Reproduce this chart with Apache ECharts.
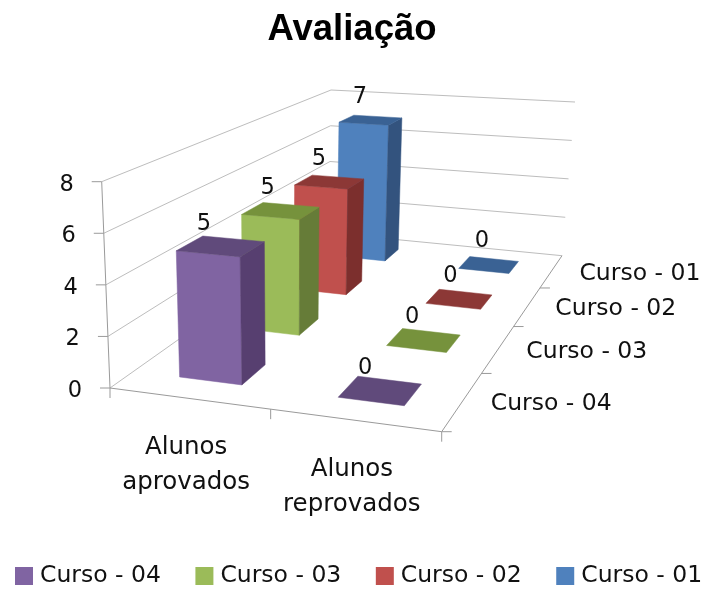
<!DOCTYPE html>
<html><head><meta charset="utf-8">
<style>html,body{margin:0;padding:0;background:#fff}#c{width:704px;height:590px}</style>
<script src="https://cdn.jsdelivr.net/npm/echarts@6/dist/echarts.min.js"></script>
</head><body><div id="c"></div>
<script>
const categories = ["Alunos\naprovados", "Alunos\nreprovados"];
const seriesNames = ["Curso - 04", "Curso - 03", "Curso - 02", "Curso - 01"];
const curso04 = [5, 0];
const curso03 = [5, 0];
const curso02 = [5, 0];
const curso01 = [7, 0];
const valueTicks = [0, 2, 4, 6, 8];
const seriesValues = [curso04, curso03, curso02, curso01];

const frontColors = ["#8064A2", "#9BBB59", "#C0504D", "#4F81BD"];
const sideColors  = ["#573F70", "#667C38", "#7C2F2D", "#33537E"];
const topColors   = ["#604A7B", "#76923C", "#8C3836", "#3A6294"];

const FONT = "DejaVu Sans";
const BAR_W = 0.4, BAR_D = 0.38;
const GRID = {left: 0, top: 0, width: 100, height: 100};

function squareToQuad(p) {
  const [a, b, c, d] = p; // (0,0) (1,0) (1,1) (0,1)
  const dx1 = b[0]-c[0], dx2 = d[0]-c[0], sx = a[0]-b[0]+c[0]-d[0];
  const dy1 = b[1]-c[1], dy2 = d[1]-c[1], sy = a[1]-b[1]+c[1]-d[1];
  const den = dx1*dy2-dx2*dy1;
  const g = (sx*dy2-dx2*sy)/den, h = (dx1*sy-sx*dy1)/den;
  const A = b[0]-a[0]+g*b[0], B = d[0]-a[0]+h*d[0], C = a[0];
  const D = b[1]-a[1]+g*b[1], E = d[1]-a[1]+h*d[1], F = a[1];
  return (u, v) => {
    const w = g*u+h*v+1;
    return [(A*u+B*v+C)/w, (D*u+E*v+F)/w];
  };
}
const floorMap = squareToQuad([[110,388],[441.7,431.7],[562,255.7],[329,233]]);
const ceilMap  = squareToQuad([[101.7,181.7],[454,210],[575,102],[331,90]]);
function project(u, v, h) {
  const f = floorMap(u, v), c = ceilMap(u, v);
  return [f[0]+(c[0]-f[0])*h, f[1]+(c[1]-f[1])*h];
}
function fracs(api, cat, val) {
  const p = api.coord([cat, val]);
  return [(p[0]-GRID.left)/GRID.width, (GRID.top+GRID.height-p[1])/GRID.height];
}
function poly(points, fill) {
  return {type:'polygon', shape:{points}, style:{fill, stroke:fill, lineWidth:0.5}};
}
function line(a, b, stroke) {
  return {type:'line', shape:{x1:a[0],y1:a[1],x2:b[0],y2:b[1]}, style:{stroke, lineWidth:1, fill:null}};
}
function text(str, x, y, align, size, lh) {
  return {type:'text', style:{text:str, x, y, font:size+'px "'+FONT+'"', fill:'#111', align, verticalAlign:'middle',
    textAlign:align, textVerticalAlign:'middle', lineHeight:lh||undefined}};
}

function barItem(row) {
  return function(params, api) {
    const cat = api.value(0), val = api.value(1);
    const fr = fracs(api, cat, val);
    const uc = fr[0], h = fr[1];
    const vc = (row+0.5)/seriesNames.length;
    const hu = BAR_W/categories.length/2, hv = BAR_D/seriesNames.length/2;
    const u0=uc-hu, u1=uc+hu, v0=vc-hv, v1=vc+hv;
    const children = [];
    if (val > 0) {
      children.push(poly([project(u0,v0,0),project(u1,v0,0),project(u1,v0,h),project(u0,v0,h)], frontColors[row]));
      children.push(poly([project(u1,v0,0),project(u1,v1,0),project(u1,v1,h),project(u1,v0,h)], sideColors[row]));
    }
    children.push(poly([project(u0,v0,h),project(u1,v0,h),project(u1,v1,h),project(u0,v1,h)], topColors[row]));
    const lp = project(u0+(u1-u0)*0.1, v1+0.03-(seriesNames.length-1-row)*0.015, h);
    children.push(text(String(val), lp[0]-8*h+4, lp[1]-12-5*h, 'center', 22.5));
    return {type:'group', children};
  };
}

function frameItem(params, api) {
  const kids = [];
  const GRIDC = '#bdbdbd', AXIS = '#9a9a9a';
  valueTicks.forEach(t => {
    const h = fracs(api, 0, t)[1];
    const a = project(0,0,h), b = project(0,1,h), c = project(1,1,h);
    kids.push(line(a,b,GRIDC), line(b,c,GRIDC));
    kids.push(line([a[0]-10,a[1]],a,AXIS));
    kids.push(text(String(t), a[0]-28, a[1]+3, 'right', 22.5));
  });
  const A=project(0,0,0), B=project(1,0,0), C=project(1,1,0), T=project(0,0,1);
  kids.push(line(A,T,AXIS), line(A,B,AXIS), line(B,C,AXIS));
  [0,1,2].forEach(i => {
    const p = project(i/2,0,0);
    kids.push(line(p,[p[0],p[1]+10],AXIS));
  });
  seriesNames.forEach((n,i) => {
    const p = project(1,i/seriesNames.length,0);
    kids.push(line(p,[p[0]+10,p[1]],AXIS));
    const m = project(1,(i+0.5)/seriesNames.length,0);
    kids.push(text(n, m[0]+28, m[1]+3, 'left', 23.5));
  });
  categories.forEach((c,i) => {
    const p = project((i+0.5)/categories.length,0,0);
    kids.push(text(c, p[0]-3, p[1]+67, 'center', 24.5, 35));
  });
  return {type:'group', children:kids};
}

const series = [{
  type:'custom', name:'frame', z:1, silent:true, clip:false,
  renderItem:frameItem, data:[[0,0]], encode:{x:0,y:1}
}];
seriesNames.forEach((name,row) => {
  series.push({
    type:'custom', name, z:10+seriesNames.length-row, clip:false,
    itemStyle:{color:frontColors[row]},
    renderItem:barItem(row),
    encode:{x:0,y:1},
    data:seriesValues[row].map((v,i)=>[i,v])
  });
});

const chart = echarts.init(document.getElementById('c'), null, {renderer:'canvas'});
chart.setOption({
  animation:false,
  backgroundColor:'#fff',
  title:{text:'Avaliação', left:347, textAlign:'center', top:6, textStyle:{fontFamily:'Liberation Sans', fontSize:36.5, fontWeight:'bold', color:'#000'}},
  legend:{data:seriesNames, left:15, top:564, padding:0, itemWidth:18, itemHeight:18, itemGap:34.5, icon:'rect',
    textStyle:{fontFamily:FONT, fontSize:23.5, color:'#111', padding:[0,0,0,2]}},
  grid:GRID,
  xAxis:{type:'category', data:categories, show:false},
  yAxis:{type:'value', min:0, max:8, interval:2, show:false},
  series
});
</script></body></html>
